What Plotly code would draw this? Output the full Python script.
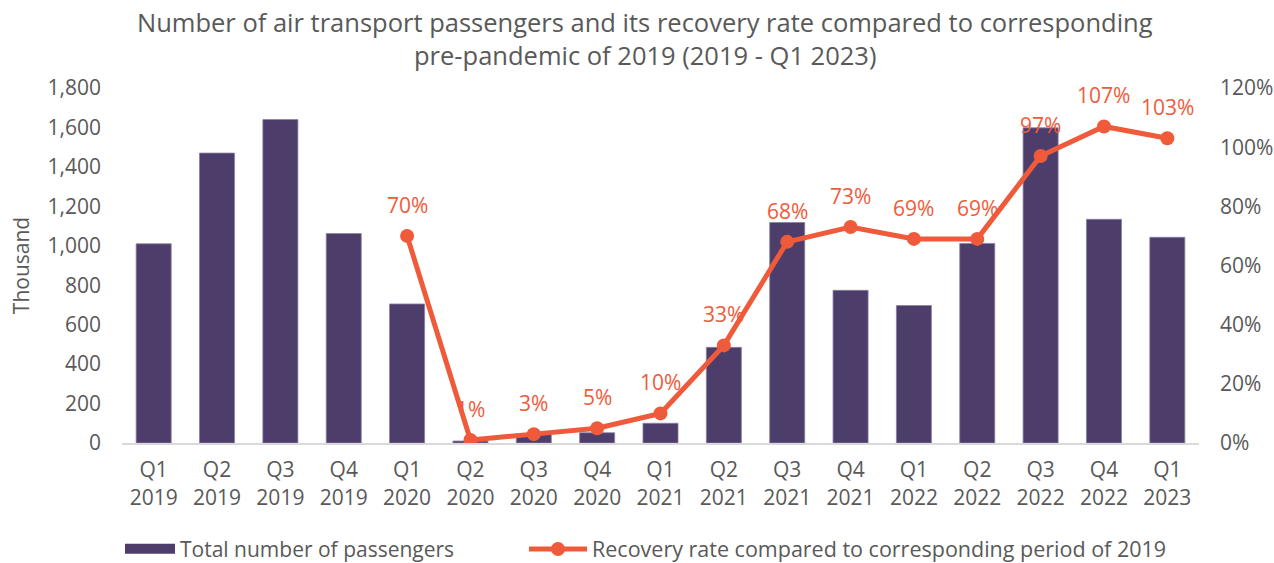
import plotly.graph_objects as go

quarters = ["Q1<br>2019", "Q2<br>2019", "Q3<br>2019", "Q4<br>2019",
            "Q1<br>2020", "Q2<br>2020", "Q3<br>2020", "Q4<br>2020",
            "Q1<br>2021", "Q2<br>2021", "Q3<br>2021", "Q4<br>2021",
            "Q1<br>2022", "Q2<br>2022", "Q3<br>2022", "Q4<br>2022",
            "Q1<br>2023"]
passengers = [1010, 1470, 1640, 1062, 705, 10, 45, 52, 100, 485, 1118, 774,
              697, 1012, 1598, 1134, 1043]
recovery = [None, None, None, None, 70, 1, 3, 5, 10, 33, 68, 73, 69, 69, 97, 107, 103]

title_lines = ["Number of air transport passengers and its recovery rate compared to corresponding",
               "pre-pandemic of 2019 (2019 - Q1 2023)"]

FONT = "Open Sans"
GREY = "#595959"
BAR = "#4d3d6a"
ORANGE = "#ef5b3a"

fig = go.Figure()
fig.add_trace(go.Bar(
    x=quarters, y=passengers, name="Total number of passengers",
    marker=dict(color=BAR, line=dict(color="#8a7fa3", width=0.8)),
    yaxis="y", showlegend=False, legendgroup="bar",
))
# legend entry for the bars (wide swatch, no data)
fig.add_trace(go.Scatter(
    x=[None], y=[None], mode="lines", name="Total number of passengers",
    line=dict(color=BAR, width=14), legend="legend", legendgroup="bar",
))
fig.add_trace(go.Scatter(
    x=quarters, y=[None if v is None else v / 100 for v in recovery],
    name="Recovery rate compared to corresponding period of 2019",
    mode="lines+markers",
    line=dict(color=ORANGE, width=5),
    marker=dict(color=ORANGE, size=14),
    yaxis="y2", legend="legend2",
))

annotations = []
for q, v in zip(quarters, recovery):
    if v is None:
        continue
    annotations.append(dict(
        x=q, y=v / 100, xref="x", yref="y2", text=f"{v}%", showarrow=False,
        yshift=31, font=dict(color=ORANGE, size=21, family=FONT),
        xanchor="center", yanchor="middle",
    ))
for line_text, ypos in zip(title_lines, [1.186, 1.093]):
    annotations.append(dict(
        x=0.4856, y=ypos, xref="paper", yref="paper", text=line_text,
        showarrow=False, xanchor="center", yanchor="middle",
        font=dict(family=FONT, size=25.5, color=GREY),
    ))

fig.update_layout(
    width=1274, height=563,
    paper_bgcolor="white", plot_bgcolor="white",
    font=dict(family=FONT, color=GREY, size=20),
    margin=dict(l=122, r=75, t=88, b=120, autoexpand=False),
    annotations=annotations,
    bargap=0.447,
    showlegend=True,
    legend=dict(
        orientation="h", xref="container", yref="container",
        x=120 / 1274, xanchor="left", y=1 - 549 / 563, yanchor="middle",
        font=dict(size=21, color=GREY, family=FONT), itemwidth=50,
    ),
    legend2=dict(
        orientation="h", xref="container", yref="container",
        x=524 / 1274, xanchor="left", y=1 - 549 / 563, yanchor="middle",
        font=dict(size=21.5, color=GREY, family=FONT), itemwidth=58,
    ),
    xaxis=dict(
        range=[-0.5, 16.5], automargin=False,
        showline=True, linecolor="#d9d9d9", linewidth=2,
        showgrid=False, ticks="", tickfont=dict(size=21, color=GREY),
        ticklabelstandoff=7,
    ),
    yaxis=dict(
        range=[0, 1800], dtick=200, tickformat=",", showgrid=False, automargin=False,
        zeroline=False, ticks="", tickfont=dict(size=21, color=GREY),
        ticklabelstandoff=20,
        title=dict(text="Thousand", font=dict(size=21, color=GREY), standoff=12),
    ),
    yaxis2=dict(
        range=[0, 1.2], dtick=0.2, tickformat=".0%", overlaying="y", side="right",
        showgrid=False, zeroline=False, ticks="", tickfont=dict(size=21, color=GREY),
        ticklabelstandoff=20, automargin=False,
    ),
)

fig.write_html("out.html", config={"displayModeBar": False},
               post_script="document.body.style.margin='0';document.body.style.overflow='hidden';")
